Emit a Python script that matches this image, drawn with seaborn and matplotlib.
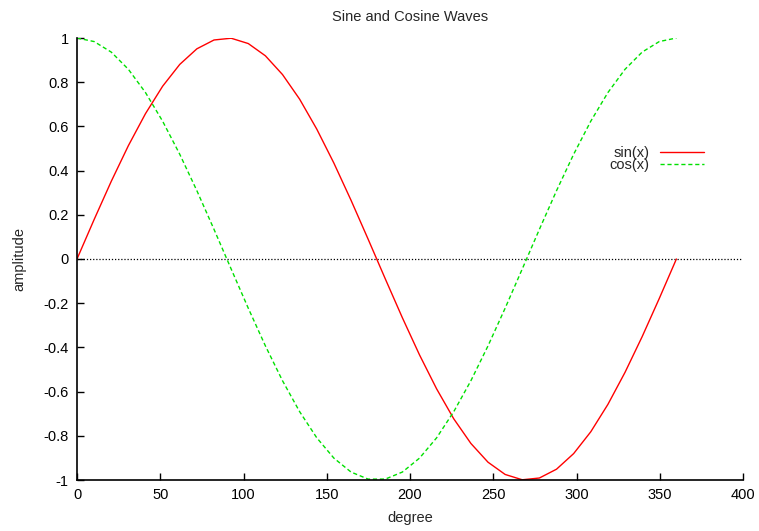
import matplotlib
matplotlib.use("Agg")
import matplotlib.pyplot as plt
import seaborn as sns
import pandas as pd

degree = [0.0, 10.286, 20.571, 30.857, 41.143, 51.429, 61.714, 72.0, 82.286, 92.571,
          102.857, 113.143, 123.429, 133.714, 144.0, 154.286, 164.571, 174.857, 185.143,
          195.429, 205.714, 216.0, 226.286, 236.571, 246.857, 257.143, 267.429, 277.714,
          288.0, 298.286, 308.571, 318.857, 329.143, 339.429, 349.714, 360.0]
sin_vals = [0.0, 0.1786, 0.3514, 0.5129, 0.6579, 0.7818, 0.8805, 0.9511, 0.9910, 0.9990,
            0.9749, 0.9195, 0.8346, 0.7232, 0.5878, 0.4339, 0.2660, 0.0896, -0.0896,
            -0.2660, -0.4339, -0.5878, -0.7232, -0.8346, -0.9195, -0.9749, -0.9990, -0.9910,
            -0.9511, -0.8805, -0.7818, -0.6579, -0.5129, -0.3514, -0.1786, 0.0]
cos_vals = [1.0, 0.9839, 0.9362, 0.8584, 0.7531, 0.6235, 0.4739, 0.3090, 0.1342, -0.0449,
            -0.2225, -0.3930, -0.5508, -0.6907, -0.8090, -0.9010, -0.9640, -0.9960, -0.9960,
            -0.9640, -0.9010, -0.8090, -0.6907, -0.5508, -0.3930, -0.2225, -0.0449, 0.1342,
            0.3090, 0.4739, 0.6235, 0.7531, 0.8584, 0.9362, 0.9839, 1.0]
x_ticks = [0, 50, 100, 150, 200, 250, 300, 350, 400]
y_ticks = [-1, -0.8, -0.6, -0.4, -0.2, 0, 0.2, 0.4, 0.6, 0.8, 1]
y_tick_labels = ["-1", "-0.8", "-0.6", "-0.4", "-0.2", "0", "0.2", "0.4", "0.6", "0.8", "1"]

sns.set_style("ticks")
plt.rcParams['font.family'] = ['Liberation Sans', 'DejaVu Sans']

df = pd.DataFrame({"degree": degree, "sin": sin_vals, "cos": cos_vals})

fig = plt.figure(figsize=(7.59, 5.31), dpi=100)
ax = fig.add_axes([77/759, 1 - 480/531, (743-77)/759, (480-38)/531])

ax.axhline(0, color="black", lw=0.9, ls=(0, (1, 1.5)), zorder=1)
sns.lineplot(data=df, x="degree", y="sin", ax=ax, color="#ff0000", lw=1.0, label="sin(x)")
sns.lineplot(data=df, x="degree", y="cos", ax=ax, color="#00e000", lw=1.0,
             ls=(0, (3, 2)), label="cos(x)")

ax.set_xlim(0, 400)
ax.set_ylim(-1, 1)
ax.set_xticks(x_ticks)
ax.set_xticklabels([str(t) for t in x_ticks])
ax.set_yticks(y_ticks)
ax.set_yticklabels(y_tick_labels)
ax.tick_params(direction="in", length=5, width=1, labelsize=10.5, pad=6, colors="black")
for s in ["top", "right"]:
    ax.spines[s].set_visible(False)
for s in ["left", "bottom"]:
    ax.spines[s].set_color("black")
    ax.spines[s].set_linewidth(1.2)

ax.set_xlabel("degree", fontsize=10.5, labelpad=6)
ax.set_ylabel("amplitude", fontsize=10.5, labelpad=12)
ax.set_title("Sine and Cosine Waves", fontsize=10.5, pad=12)

leg = ax.legend(loc="upper right", bbox_to_anchor=(0.952, 0.773), frameon=False,
                fontsize=10.5, markerfirst=False, handlelength=3.0, handletextpad=0.7,
                labelspacing=-0.08, borderpad=0)
for t in leg.get_texts():
    t.set_ha("right")

fig.savefig("out.png", dpi=100)
